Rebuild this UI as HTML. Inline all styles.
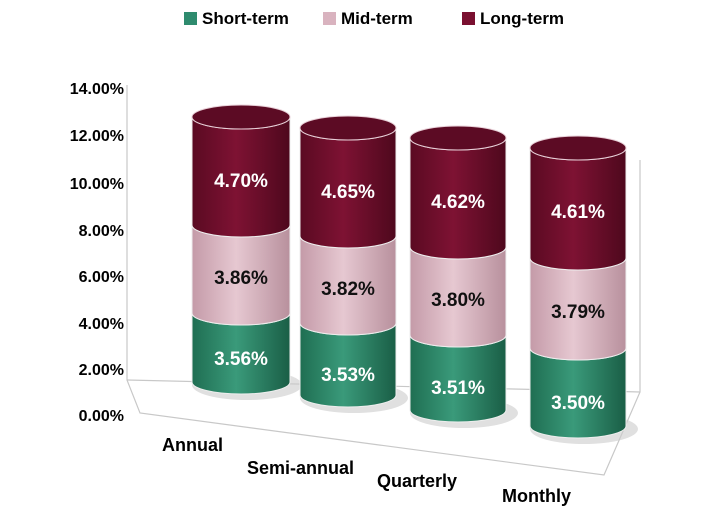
<!DOCTYPE html><html><head><style>body{margin:0;background:#fff}svg{display:block;font-family:"Liberation Sans",Arial,sans-serif;font-weight:bold}</style></head><body>
<svg width="720" height="523" viewBox="0 0 720 523">
<defs>
<linearGradient id="g" x1="0" x2="1"><stop offset="0" stop-color="#1f6e52"/><stop offset=".45" stop-color="#3a9a7a"/><stop offset="1" stop-color="#1a5e46"/></linearGradient>
<linearGradient id="p" x1="0" x2="1"><stop offset="0" stop-color="#c49aa8"/><stop offset=".45" stop-color="#e6c8d1"/><stop offset="1" stop-color="#b8909d"/></linearGradient>
<linearGradient id="r" x1="0" x2="1"><stop offset="0" stop-color="#5a0a22"/><stop offset=".45" stop-color="#7e1233"/><stop offset="1" stop-color="#4e081d"/></linearGradient>
</defs>
<rect x="184" y="12" width="13" height="13" fill="#2e8b6e"/><text x="202" y="24" font-size="17">Short-term</text>
<rect x="323" y="12" width="13" height="13" fill="#d9b3bf"/><text x="341" y="24" font-size="17">Mid-term</text>
<rect x="462" y="12" width="13" height="13" fill="#7a1030"/><text x="480" y="24" font-size="17">Long-term</text>
<g fill="none" stroke="#c8c8c8" stroke-width="1.2">
<polyline points="127,85 127,380 140,413 604,475 640,392 640,160"/>
<line x1="127" y1="380" x2="640" y2="392"/>
</g>
<g font-size="16" text-anchor="end">
<text x="124" y="94">14.00%</text><text x="124" y="141">12.00%</text><text x="124" y="189">10.00%</text><text x="124" y="236">8.00%</text><text x="124" y="282">6.00%</text><text x="124" y="329">4.00%</text><text x="124" y="375">2.00%</text><text x="124" y="421">0.00%</text>
</g>
<g stroke="#eee" stroke-width="1">
<!-- Annual -->
<ellipse cx="247" cy="385" rx="55" ry="15" fill="#ccc" opacity=".6" stroke="none"/>
<path d="M192,313 A49,12 0 0 0 290,313 L290,382 A49,12 0 0 1 192,382 Z" fill="url(#g)"/>
<path d="M192,225 A49,12 0 0 0 290,225 L290,313 A49,12 0 0 1 192,313 Z" fill="url(#p)"/>
<path d="M192,117 A49,12 0 0 0 290,117 L290,225 A49,12 0 0 1 192,225 Z" fill="url(#r)"/>
<ellipse cx="241" cy="117" rx="49" ry="12" fill="#5c0b24" stroke="#e8d0d8"/>
<!-- Semi -->
<ellipse cx="354" cy="398" rx="54" ry="15" fill="#ccc" opacity=".6" stroke="none"/>
<path d="M300,323 A48,12 0 0 0 396,323 L396,395 A48,12 0 0 1 300,395 Z" fill="url(#g)"/>
<path d="M300,236 A48,12 0 0 0 396,236 L396,323 A48,12 0 0 1 300,323 Z" fill="url(#p)"/>
<path d="M300,128 A48,12 0 0 0 396,128 L396,236 A48,12 0 0 1 300,236 Z" fill="url(#r)"/>
<ellipse cx="348" cy="128" rx="48" ry="12" fill="#5c0b24" stroke="#e8d0d8"/>
<!-- Quarterly -->
<ellipse cx="464" cy="413" rx="54" ry="15" fill="#ccc" opacity=".6" stroke="none"/>
<path d="M410,335 A48,12 0 0 0 506,335 L506,410 A48,12 0 0 1 410,410 Z" fill="url(#g)"/>
<path d="M410,247 A48,12 0 0 0 506,247 L506,335 A48,12 0 0 1 410,335 Z" fill="url(#p)"/>
<path d="M410,138 A48,12 0 0 0 506,138 L506,247 A48,12 0 0 1 410,247 Z" fill="url(#r)"/>
<ellipse cx="458" cy="138" rx="48" ry="12" fill="#5c0b24" stroke="#e8d0d8"/>
<!-- Monthly -->
<ellipse cx="584" cy="429" rx="54" ry="15" fill="#ccc" opacity=".6" stroke="none"/>
<path d="M530,348 A48,12 0 0 0 626,348 L626,426 A48,12 0 0 1 530,426 Z" fill="url(#g)"/>
<path d="M530,258 A48,12 0 0 0 626,258 L626,348 A48,12 0 0 1 530,348 Z" fill="url(#p)"/>
<path d="M530,148 A48,12 0 0 0 626,148 L626,258 A48,12 0 0 1 530,258 Z" fill="url(#r)"/>
<ellipse cx="578" cy="148" rx="48" ry="12" fill="#5c0b24" stroke="#e8d0d8"/>
</g>
<g font-size="19" text-anchor="middle">
<text x="241" y="187" fill="#fff">4.70%</text><text x="241" y="284" fill="#111">3.86%</text><text x="241" y="365" fill="#fff">3.56%</text>
<text x="348" y="198" fill="#fff">4.65%</text><text x="348" y="295" fill="#111">3.82%</text><text x="348" y="381" fill="#fff">3.53%</text>
<text x="458" y="208" fill="#fff">4.62%</text><text x="458" y="306" fill="#111">3.80%</text><text x="458" y="394" fill="#fff">3.51%</text>
<text x="578" y="218" fill="#fff">4.61%</text><text x="578" y="318" fill="#111">3.79%</text><text x="578" y="409" fill="#fff">3.50%</text>
</g>
<g font-size="18">
<text x="162" y="451">Annual</text><text x="247" y="474">Semi-annual</text><text x="377" y="487">Quarterly</text><text x="502" y="502">Monthly</text>
</g>
</svg></body></html>
